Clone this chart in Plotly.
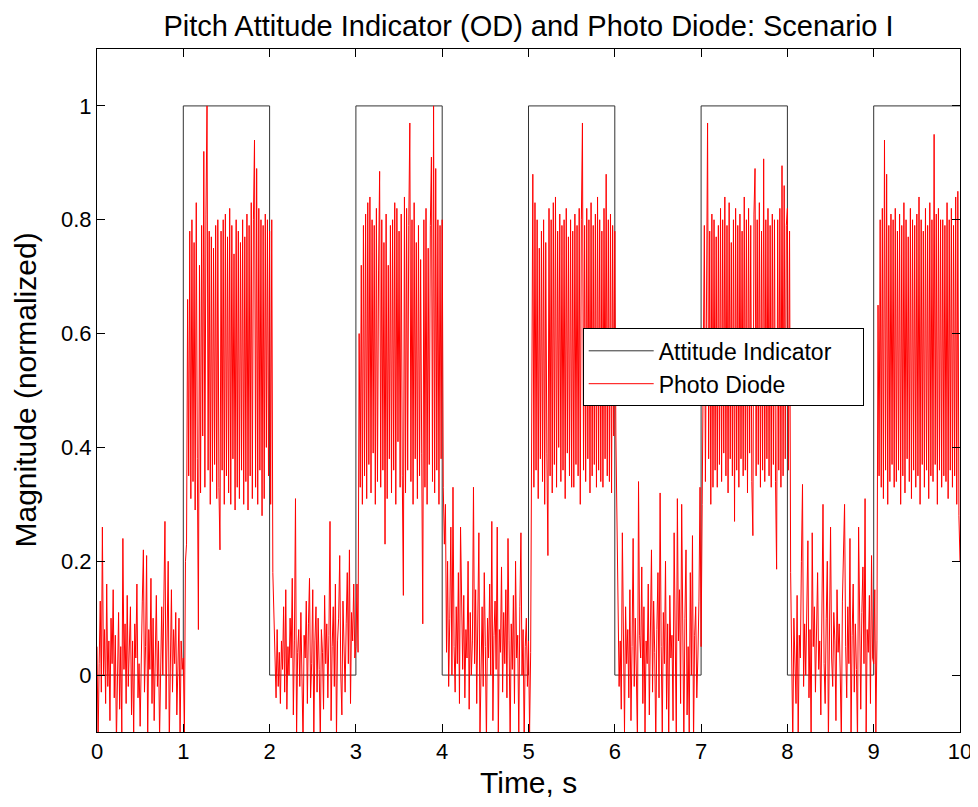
import numpy as np
import plotly.graph_objects as go

# Attitude indicator (square wave): switching times and levels
ai_times = [0, 1, 1, 2, 2, 3, 3, 4, 4, 5, 5, 6, 6, 7, 7, 8, 8, 9, 9, 10]
ai_levels = [0, 0, 1, 1, 0, 0, 1, 1, 0, 0, 1, 1, 0, 0, 1, 1, 0, 0, 1, 1]

# Photo diode samples, one list per second (80 samples/s)
pd_s0 = [.05,-.12,.02,.13,-.03,.26,.0,.08,-.05,.16,
         -.02,.06,-.08,.1,.02,.15,-.04,.07,-.12,.03,
         .11,-.06,.05,-.1,.24,.01,.09,-.05,.14,-.02,
         .04,.12,-.07,.06,-.11,.09,.03,.16,-.04,.02,
         -.09,.07,.13,.22,-.03,.05,.21,-.12,.08,.01,
         .17,-.05,.1,-.08,.04,.14,-.02,.06,-.11,.03,
         .12,.0,.18,.27,-.06,.09,.2,-.12,.05,.15,
         -.03,.08,.02,.11,-.07,.04,.1,-.12,.06,.01]
pd_s1 = [.03,-.11,.2,.23,.66,.35,.78,.31,.8,.34,
         .76,.29,.83,.38,.08,.72,.32,.79,.42,.92,
         .33,.81,1.0,.36,.78,.3,.77,.34,.75,.37,
         .79,.31,.8,.33,.22,.78,.36,.8,.3,.81,
         .35,.77,.32,.82,.3,.79,.38,.74,.29,.8,
         .33,.78,.31,.76,.36,.8,.3,.77,.34,.81,
         .29,.79,.35,.83,.31,.8,.94,.33,.89,.3,
         .82,.36,.8,.28,.79,.31,.81,.4,.8,.35]
pd_s2 = [.78,.3,.8,.18,.1,.02,-.04,.08,-.02,.04,
         -.05,.06,.01,.12,-.03,.15,-.06,.05,.0,.1,
         .03,.17,-.07,.06,.31,-.11,.04,.08,-.02,.11,
         .0,-.12,.07,.03,.13,-.05,.09,.17,-.04,.02,
         .15,-.11,.06,.12,-.03,.1,.01,-.12,.08,.04,
         -.06,.14,.02,.09,-.04,.07,.27,-.08,.05,.12,
         -.02,.16,-.11,.06,.1,.21,.0,-.07,.13,.04,
         -.03,.09,.18,.02,.22,-.05,.11,.06,.16,.03]
pd_s3 = [.05,.16,.04,.6,.33,.72,.3,.79,.35,.81,
         .31,.83,.37,.84,.32,.8,.39,.79,.3,.82,
         .34,.71,.885,.33,.8,.36,.76,.23,.81,.31,
         .72,.38,.79,.32,.8,.36,.83,.3,.82,.41,
         .78,.33,.81,.35,.14,.84,.32,.82,.36,.79,
         .97,.34,.8,.3,.83,.38,.76,.31,.79,.35,
         .73,.39,.09,.8,.33,.82,.3,.75,.37,.79,
         .91,.34,1.0,.32,.89,.36,.8,.3,.79,.38]
pd_s4 = [.8,.33,.23,.3,.04,.2,-.02,.1,.26,.0,
         .33,.05,-.03,.12,.02,.18,-.05,.26,.07,.01,
         .14,-.04,.08,.03,.2,-.06,.11,.0,.06,.33,
         .02,.15,-.05,.09,.25,-.11,.04,.12,-.02,.18,
         .05,-.12,.1,.03,.16,.0,.27,-.08,.07,.13,
         .01,.26,-.11,.08,.04,.19,-.03,.11,.02,.15,
         -.04,.24,.06,-.12,.09,.01,.14,-.05,.2,.03,
         .07,-.11,.12,.25,.0,.08,-.12,.05,.1,-.02]
pd_s5 = [.06,-.1,.04,.62,.88,.33,.83,.36,.8,.31,
         .75,.38,.78,.34,.8,.3,.76,.39,.21,.82,
         .35,.8,.32,.83,.37,.84,.33,.78,.4,.81,
         .34,.79,.36,.8,.31,.82,.39,.77,.35,.8,
         .33,.78,.33,.81,.37,.79,.35,.82,.3,.8,
         .97,.36,.79,.34,.82,.38,.8,.32,.83,.35,
         .79,.37,.81,.33,.84,.36,.8,.34,.78,.33,
         .82,.38,.88,.35,.8,.34,.81,.32,.79,.42]
pd_s6 = [.78,.42,.27,.1,-.02,.06,-.06,.25,.03,-.1,
         .12,.02,.08,-.04,.15,-.08,.05,.24,-.02,.1,
         .0,-.12,.34,.07,.03,.19,-.05,.12,-.1,.06,
         .02,.16,-.07,.09,.22,-.03,.13,.04,-.12,.08,
         .18,-.04,.32,.05,-.1,.11,.02,.2,-.06,.09,
         -.12,.14,.03,.07,-.08,.25,.01,-.11,.31,.06,
         .15,-.05,.3,.02,-.12,.1,.22,-.07,.05,-.1,
         .18,.0,.245,-.12,.07,.12,-.04,.03,.13,.33]
pd_s7 = [.05,.3,.55,.79,.34,.8,.97,.38,.78,.3,
         .81,.33,.8,.36,.77,.33,.79,.37,.82,.34,
         .8,.39,.84,.35,.79,.32,.83,.38,.76,.35,
         .8,.27,.82,.36,.79,.33,.81,.38,.78,.35,
         .84,.36,.8,.32,.82,.39,.79,.34,.245,.81,
         .89,.35,.8,.37,.83,.33,.78,.36,.907,.34,
         .8,.38,.82,.35,.79,.33,.81,.37,.8,.34,
         .186,.8,.36,.82,.33,.895,.35,.86,.38,.79]
pd_s8 = [.82,.36,.78,.18,.06,-.12,.1,.02,-.05,.14,
         -.11,.07,.03,.2,.335,-.02,.09,.0,.15,.236,
         -.04,.08,-.12,.25,.05,.12,-.03,.07,.18,.01,
         .06,-.07,.14,.3,.02,-.05,.1,.2,-.12,.08,
         .26,.03,-.02,.11,.06,-.08,.15,.04,.09,.0,
         -.12,.13,.26,.3,.05,-.04,.12,.02,.24,-.11,
         .07,.16,-.03,.09,.01,-.12,.26,.05,-.06,.11,
         .19,.02,.31,-.1,.08,.04,.14,-.05,.21,.03]
pd_s9 = [.02,.15,-.1,.06,.65,.35,.8,.33,.82,.31,
         .94,.36,.88,.3,.79,.34,.81,.37,.8,.33,
         .82,.34,.78,.36,.81,.3,.79,.35,.83,.32,
         .8,.38,.77,.34,.82,.31,.8,.36,.79,.33,
         .81,.35,.84,.3,.8,.37,.78,.33,.82,.36,
         .79,.31,.83,.35,.8,.34,.95,.37,.81,.3,
         .82,.36,.8,.33,.8,.35,.79,.34,.83,.31,
         .8,.36,.82,.33,.79,.35,.84,.3,.85,.28]
pd_end = [.2]

sample_dt = 0.0125
pd_values = pd_s0 + pd_s1 + pd_s2 + pd_s3 + pd_s4 + pd_s5 + pd_s6 + pd_s7 + pd_s8 + pd_s9 + pd_end
pd_times = np.arange(len(pd_values)) * sample_dt

x_ticks = list(range(0, 11))
y_ticks = [0, 0.2, 0.4, 0.6, 0.8, 1]
y_tick_text = ["0", "0.2", "0.4", "0.6", "0.8", "1"]

FONT = "Liberation Sans, Arial, sans-serif"
NBSP = "\u00a0"

fig = go.Figure()
fig.add_trace(go.Scatter(x=ai_times, y=ai_levels, mode="lines",
                         name="Attitude Indicator" + NBSP * 4,
                         line=dict(color="#333333", width=1)))
fig.add_trace(go.Scatter(x=pd_times, y=pd_values, mode="lines", name="Photo Diode",
                         line=dict(color="#ff0000", width=1)))

axis_common = dict(showline=True, linecolor="black", linewidth=1, mirror="ticks",
                   ticks="inside", ticklen=8, tickcolor="black", showgrid=False,
                   zeroline=False, automargin=False,
                   tickfont=dict(family=FONT, size=22, color="black"))

# page body has an 8px margin, so the figure is sized/offset to land in the same screen place
fig.update_layout(
    width=970, height=799,
    margin=dict(l=89, r=18, t=41, b=75),
    paper_bgcolor="white", plot_bgcolor="white",
    title=dict(text="Pitch Attitude Indicator (OD) and Photo Diode: Scenario I",
               x=0.5, xanchor="center", xref="paper", y=1 - 18 / 799, yanchor="middle",
               font=dict(family=FONT, size=29, color="black")),
    xaxis=dict(range=[0, 10], tickvals=x_ticks, **axis_common),
    yaxis=dict(range=[-0.1, 1.1], tickvals=y_ticks, ticktext=y_tick_text, **axis_common),
    legend=dict(x=0.5628, y=0.591, xanchor="left", yanchor="top",
                bgcolor="white", bordercolor="black", borderwidth=1,
                font=dict(family=FONT, size=23, color="black"),
                itemwidth=65, tracegroupgap=0),
    showlegend=True,
    annotations=[
        dict(text="Time, s", xref="paper", yref="paper", x=0.5, y=0,
             xanchor="center", yanchor="middle", yshift=-50, showarrow=False,
             font=dict(family=FONT, size=30, color="black")),
        dict(text="Magnitude (normalized)", xref="paper", yref="paper", x=0, y=0.5,
             xanchor="center", yanchor="middle", xshift=-72, textangle=-90, showarrow=False,
             font=dict(family=FONT, size=30, color="black")),
    ],
)

fig.write_html("out.html")
